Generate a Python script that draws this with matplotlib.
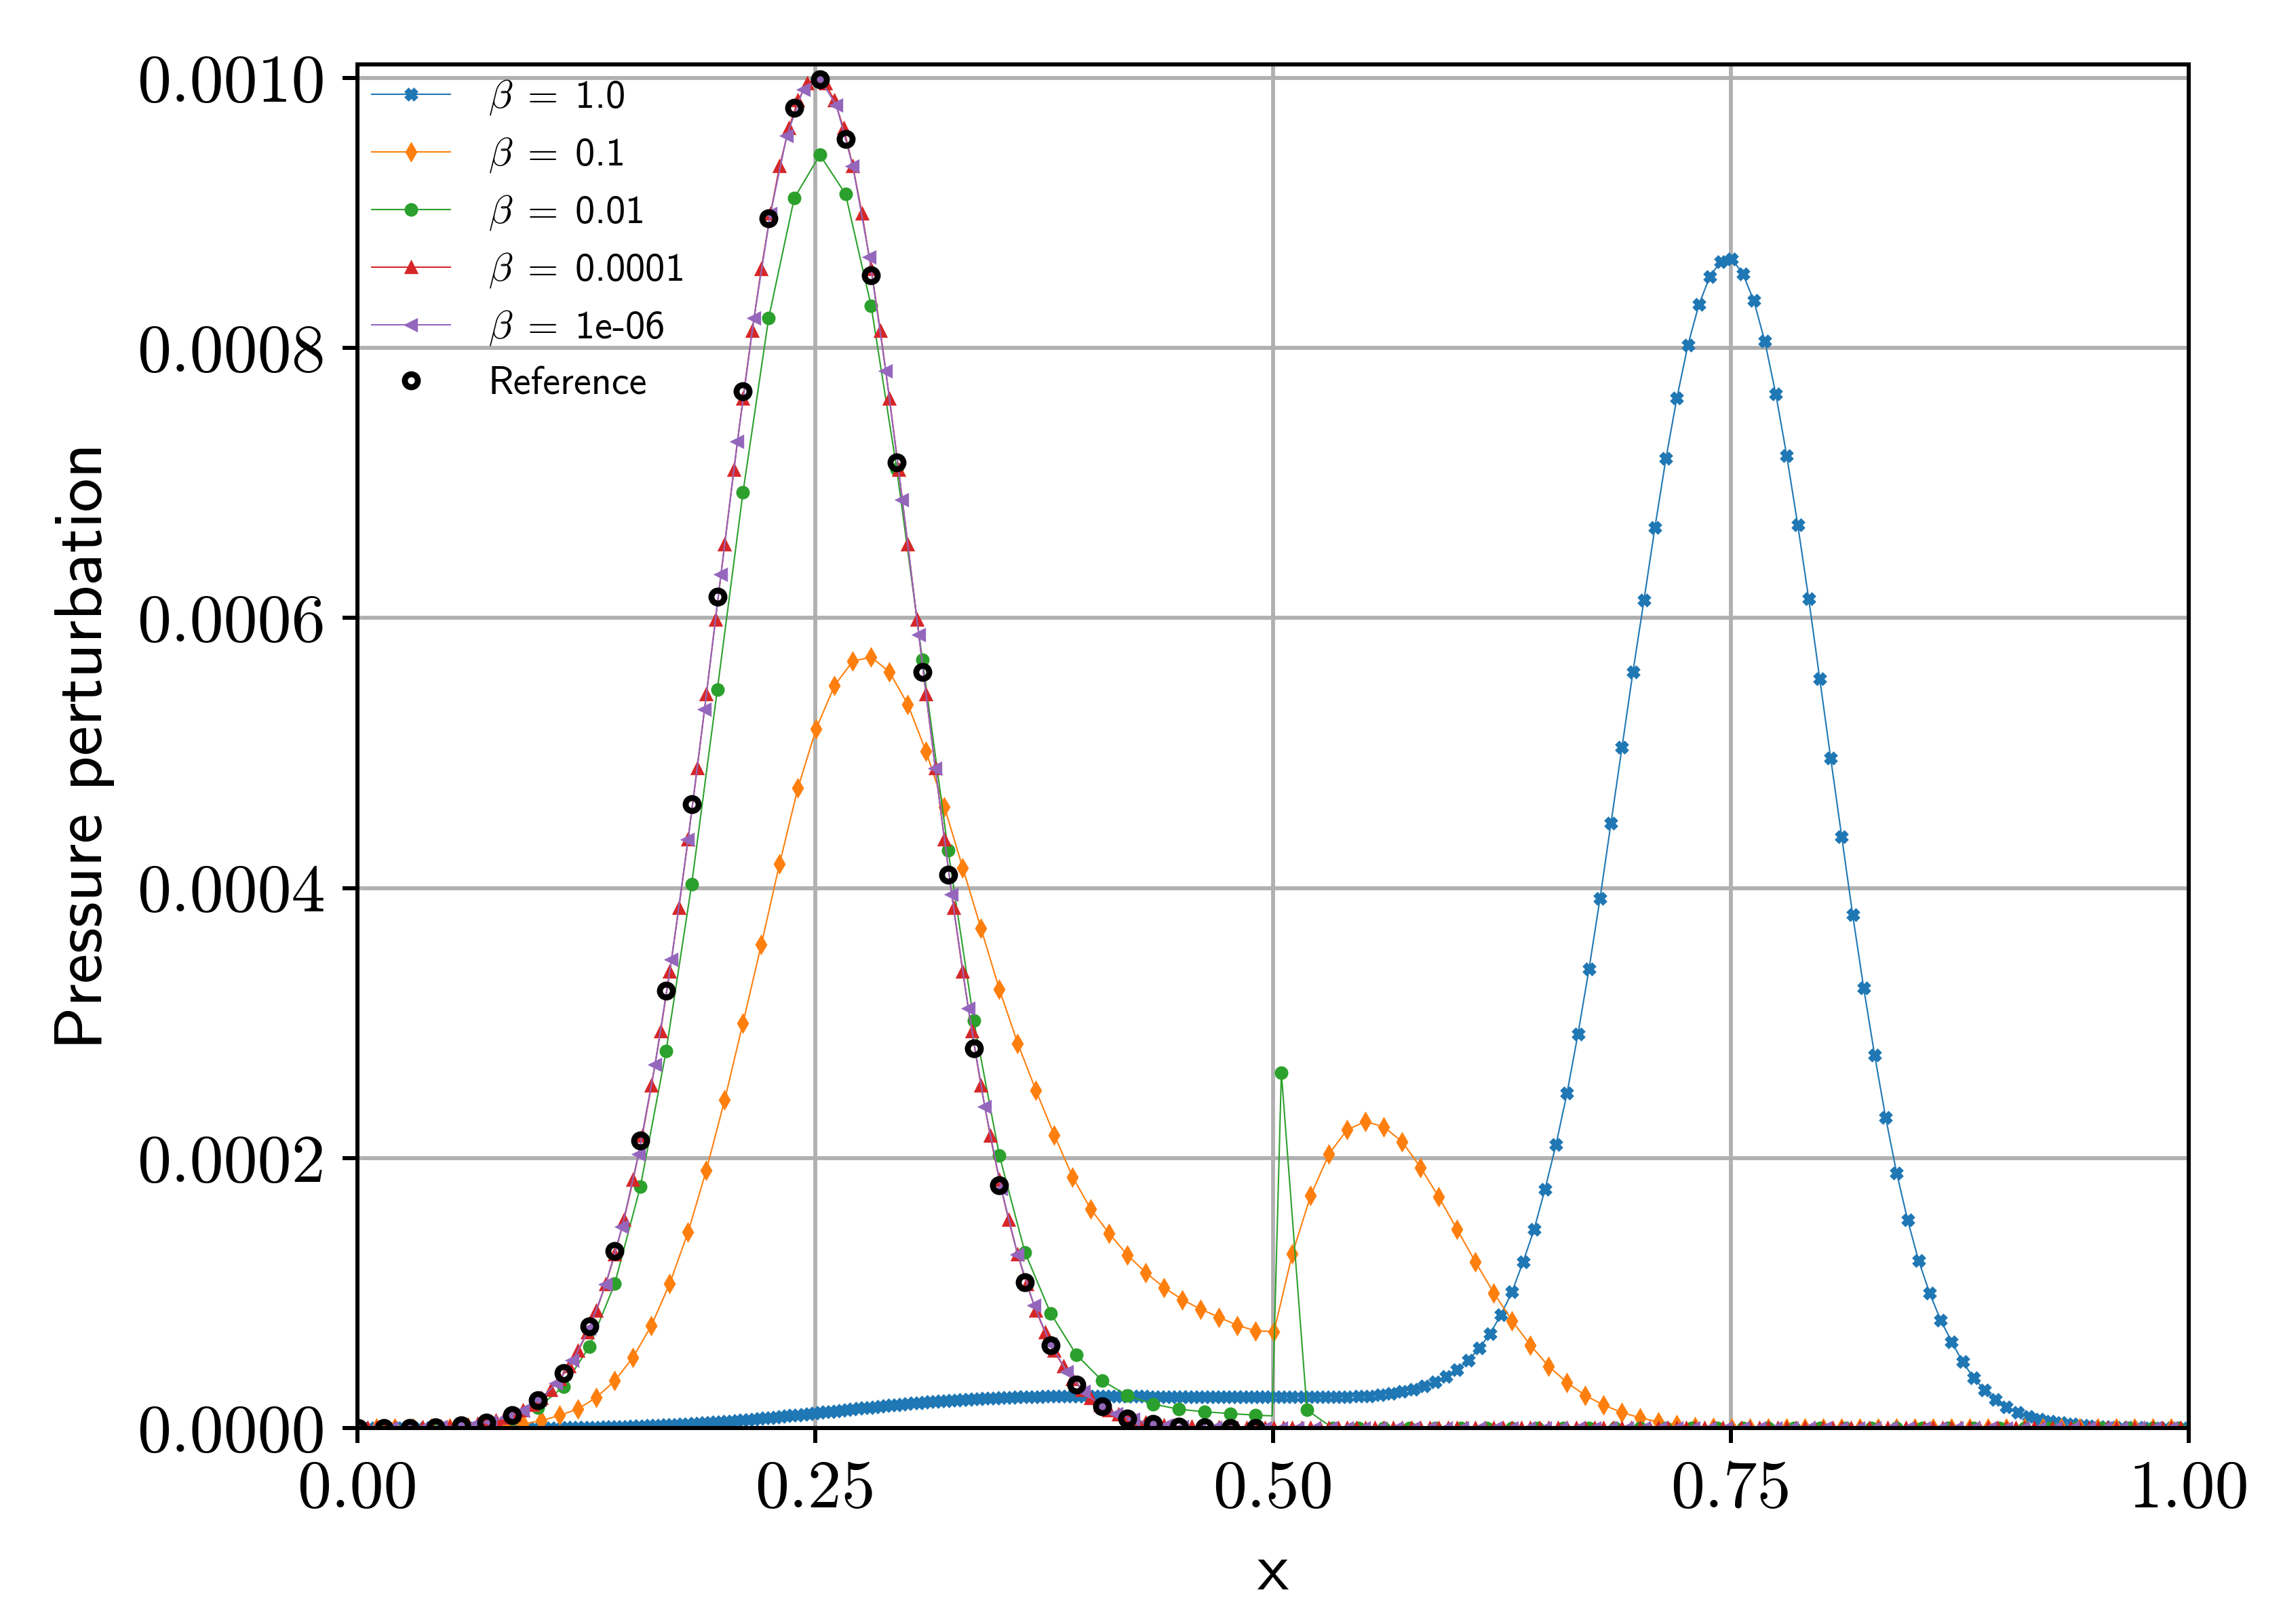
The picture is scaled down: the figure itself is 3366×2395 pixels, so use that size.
import numpy as np
import matplotlib
matplotlib.use("Agg")
import matplotlib.pyplot as plt

plt.rcParams['mathtext.fontset'] = 'cm'
plt.rcParams['axes.unicode_minus'] = False

# ---------------- data ----------------
labels = [r'$\beta\;=\;$1.0', r'$\beta\;=\;$0.1', r'$\beta\;=\;$0.01',
          r'$\beta\;=\;$0.0001', r'$\beta\;=\;$1e-06', 'Reference']

# beta = 1.0 : fine sampling (dx 0.003) up to x=0.5, coarse (dx 0.006) after; units 1e-5
blue_x_fine = 0.0005 + 0.003 * np.arange(167)
blue_y_fine = [
    0, 0, 0, 0, 0, 0, 0, 0, 0, 0,
    0, 0, 0, 0, 0, 0, 0, 0, 0, 0,
    0, 0, 0, 0, 0, 0, 0, 0, 0, 0,
    0.005, 0.007, 0.009, 0.01, 0.012, 0.015, 0.018, 0.021, 0.025, 0.03,
    0.036, 0.042, 0.05, 0.057, 0.065, 0.074, 0.083, 0.093, 0.104, 0.116,
    0.13, 0.144, 0.158, 0.173, 0.19, 0.207, 0.225, 0.244, 0.264, 0.285,
    0.307, 0.33, 0.354, 0.379, 0.405, 0.432, 0.46, 0.49, 0.52, 0.552,
    0.585, 0.62, 0.655, 0.69, 0.727, 0.765, 0.804, 0.844, 0.885, 0.926,
    0.968, 1.01, 1.05, 1.095, 1.14, 1.18, 1.225, 1.27, 1.31, 1.355,
    1.4, 1.44, 1.485, 1.525, 1.565, 1.605, 1.645, 1.685, 1.72, 1.76,
    1.795, 1.83, 1.865, 1.9, 1.93, 1.96, 1.99, 2.02, 2.05, 2.075,
    2.1, 2.125, 2.15, 2.17, 2.19, 2.21, 2.23, 2.245, 2.26, 2.275,
    2.29, 2.3, 2.31, 2.32, 2.33, 2.335, 2.34, 2.345, 2.35, 2.35,
    2.35, 2.35, 2.35, 2.35, 2.35, 2.35, 2.35, 2.35, 2.35, 2.35,
    2.35, 2.34, 2.34, 2.34, 2.33, 2.33, 2.33, 2.32, 2.32, 2.32,
    2.31, 2.31, 2.31, 2.31, 2.30, 2.30, 2.30, 2.30, 2.30, 2.30,
    2.30, 2.30, 2.30, 2.30, 2.30, 2.30, 2.30]
blue_x_coarse = 0.0005 + 0.006 * np.arange(84, 167)
blue_y_coarse = [
    2.30, 2.30, 2.30, 2.30, 2.31, 2.31, 2.32, 2.34, 2.38, 2.47,
    2.58, 2.72, 2.88, 3.1, 3.4, 3.8, 4.3, 5.0, 5.9, 7.0,
    8.4, 10.1, 12.3, 14.7, 17.7, 21.0, 24.8, 29.2, 34.0, 39.2,
    44.8, 50.4, 56.0, 61.3, 66.7, 71.8, 76.3, 80.2, 83.2, 85.3,
    86.4, 86.6, 85.5, 83.5, 80.5, 76.6, 72.0, 66.9, 61.4, 55.5,
    49.6, 43.8, 38.0, 32.6, 27.6, 23.0, 18.9, 15.4, 12.4, 10.0,
    8.0, 6.4, 4.9, 3.73, 2.8, 2.1, 1.56, 1.14, 0.84, 0.65,
    0.5, 0.38, 0.28, 0.2, 0.14, 0.1, 0.07, 0.05, 0.03, 0.02,
    0.01, 0.005, 0.0]

# beta = 0.1 : units 1e-4
orange_x = 0.0005 + 0.01 * np.arange(100)
orange_y = [
    0, 0, 0, 0, 0.001, 0.002, 0.004, 0.008, 0.015, 0.03,
    0.055, 0.093, 0.142, 0.227, 0.35, 0.524, 0.759, 1.07, 1.45, 1.91,
    2.43, 3.00, 3.58, 4.18, 4.74, 5.18, 5.50, 5.68, 5.71, 5.60,
    5.36, 5.01, 4.60, 4.15, 3.70, 3.25, 2.85, 2.50, 2.17, 1.86,
    1.62, 1.44, 1.28, 1.15, 1.04, 0.95, 0.88, 0.82, 0.76, 0.72,
    0.714, 1.29, 1.72, 2.03, 2.21, 2.27, 2.23, 2.12, 1.93, 1.71,
    1.47, 1.23, 1.00, 0.795, 0.613, 0.457, 0.337, 0.24, 0.17, 0.115,
    0.075, 0.045, 0.025, 0.012, 0.005, 0, 0, 0, 0, 0,
    0, 0, 0, 0, 0, 0, 0, 0, 0, 0,
    0, 0, 0, 0, 0, 0, 0, 0, 0, 0]

# beta = 0.01 : units 1e-4 ; one extra line vertex (no marker) just before x=0.5
green_x = 0.0005 + 0.014 * np.arange(72)
green_y = [
    0, 0, 0.001, 0.004, 0.012, 0.03, 0.07, 0.15, 0.307, 0.60,
    1.07, 1.79, 2.79, 4.03, 5.47, 6.93, 8.22, 9.11, 9.43, 9.14,
    8.31, 7.10, 5.69, 4.28, 3.02, 2.02, 1.30, 0.85, 0.544, 0.352,
    0.24, 0.177, 0.139, 0.12, 0.107, 0.095, 2.63, 0.133, 0, 0,
    0, 0, 0, 0, 0, 0, 0, 0, 0, 0,
    0, 0, 0, 0, 0, 0, 0, 0, 0, 0,
    0, 0, 0, 0, 0, 0, 0, 0, 0, 0,
    0, 0]
green_extra_x = [0.4995]
green_extra_y = [0.09]

# beta = 0.0001 : units 1e-4
red_x = 0.0005 + 0.005 * np.arange(200)
red_y = [
    0.000, 0.000, 0.001, 0.001, 0.001, 0.002, 0.003, 0.004, 0.006, 0.008,
    0.011, 0.016, 0.022, 0.030, 0.041, 0.056, 0.075, 0.099, 0.130, 0.170,
    0.221, 0.283, 0.361, 0.455, 0.570, 0.708, 0.871, 1.063, 1.286, 1.544,
    1.836, 2.166, 2.534, 2.939, 3.380, 3.854, 4.358, 4.887, 5.432, 5.989,
    6.546, 7.095, 7.625, 8.125, 8.585, 8.995, 9.345, 9.626, 9.832, 9.958,
    10.00, 9.958, 9.832, 9.626, 9.345, 8.995, 8.585, 8.125, 7.625, 7.095,
    6.546, 5.989, 5.432, 4.887, 4.358, 3.854, 3.380, 2.939, 2.534, 2.166,
    1.836, 1.544, 1.286, 1.063, 0.871, 0.708, 0.570, 0.455, 0.361, 0.283,
    0.221, 0.170, 0.130, 0.099, 0.075, 0.056, 0.041, 0.030, 0.022, 0.016,
    0.011, 0.008, 0.006, 0.004, 0.003, 0.002, 0.001, 0.001, 0.001, 0.000,
    0, 0, 0, 0, 0, 0, 0, 0, 0, 0, 0, 0, 0, 0, 0, 0, 0, 0, 0, 0,
    0, 0, 0, 0, 0, 0, 0, 0, 0, 0, 0, 0, 0, 0, 0, 0, 0, 0, 0, 0,
    0, 0, 0, 0, 0, 0, 0, 0, 0, 0, 0, 0, 0, 0, 0, 0, 0, 0, 0, 0,
    0, 0, 0, 0, 0, 0, 0, 0, 0, 0, 0, 0, 0, 0, 0, 0, 0, 0, 0, 0,
    0, 0, 0, 0, 0, 0, 0, 0, 0, 0, 0, 0, 0, 0, 0, 0, 0, 0, 0, 0]

# beta = 1e-06 : units 1e-4
purple_x = 0.0005 + 0.009 * np.arange(112)
purple_y = [
    0.000, 0.001, 0.001, 0.002, 0.004, 0.008, 0.015, 0.027, 0.047, 0.079,
    0.130, 0.210, 0.329, 0.500, 0.738, 1.063, 1.489, 2.030, 2.692, 3.472,
    4.358, 5.322, 6.324, 7.310, 8.221, 8.995, 9.575, 9.917, 9.993, 9.797,
    9.345, 8.672, 7.829, 6.877, 5.877, 4.887, 3.953, 3.111, 2.382, 1.775,
    1.286, 0.907, 0.622, 0.415, 0.270, 0.170, 0.105, 0.063, 0.036, 0.021,
    0.011, 0.006, 0.003, 0.002, 0.001, 0.000,
    0, 0, 0, 0, 0, 0, 0, 0, 0, 0, 0, 0, 0, 0, 0, 0, 0, 0, 0, 0,
    0, 0, 0, 0, 0, 0, 0, 0, 0, 0, 0, 0, 0, 0, 0, 0, 0, 0, 0, 0,
    0, 0, 0, 0, 0, 0, 0, 0, 0, 0, 0, 0, 0, 0, 0, 0]

# Reference : units 1e-4
ref_x = 0.0005 + 0.014 * np.arange(36)
ref_y = [
    0.000, 0.001, 0.002, 0.007, 0.018, 0.042, 0.096, 0.205, 0.405, 0.754,
    1.31, 2.13, 3.24, 4.62, 6.16, 7.68, 8.96, 9.78, 9.99, 9.55,
    8.54, 7.15, 5.60, 4.10, 2.81, 1.80, 1.08, 0.61, 0.32, 0.16,
    0.07, 0.03, 0.01, 0.005, 0.0, 0.0]

x_ticks = [0.0, 0.25, 0.5, 0.75, 1.0]
y_ticks = [0.0, 0.0002, 0.0004, 0.0006, 0.0008, 0.0010]

# ---------------- figure ----------------
DPI = 600
fig = plt.figure(figsize=(3366 / DPI, 2395 / DPI), dpi=DPI)
ax = fig.add_axes([0.1566, 0.1207, 0.8021, 0.8396])

lw = 0.25
ms = 2.0
mew = 0.4

bx = np.concatenate([blue_x_fine, blue_x_coarse])
by = np.concatenate([blue_y_fine, blue_y_coarse]) * 1e-5
ax.plot(bx, by, color='C0', marker='X', ms=ms, mew=mew, lw=lw, label=labels[0])

ax.plot(orange_x, np.array(orange_y) * 1e-4, color='C1', marker='d', ms=ms,
        mew=mew, lw=lw, label=labels[1])

gx = np.concatenate([green_x, green_extra_x])
gy = np.concatenate([green_y, green_extra_y]) * 1e-4
order = np.argsort(gx)
gx, gy = gx[order], gy[order]
mark_idx = [i for i, o in enumerate(order) if o < len(green_x)]
ax.plot(gx, gy, color='C2', marker='o', ms=ms, mew=mew, lw=lw,
        markevery=mark_idx, label=labels[2])

ax.plot(red_x, np.array(red_y) * 1e-4, color='C3', marker='^', ms=ms, mew=mew,
        lw=lw, label=labels[3])
ax.plot(purple_x, np.array(purple_y) * 1e-4, color='C4', marker='<', ms=ms,
        mew=mew, lw=lw, label=labels[4])
ax.plot(ref_x, np.array(ref_y) * 1e-4, color='k', marker='o', ms=2.3, mew=1.05,
        fillstyle='none', ls='none', label=labels[5])

ax.set_xlim(0, 1)
ax.set_ylim(0, 0.00101)
ax.set_xticks(x_ticks)
ax.set_yticks(y_ticks)
ax.set_xticklabels(['%.2f' % v for v in x_ticks])
ax.set_yticklabels(['%.4f' % v for v in y_ticks])
ax.tick_params(labelsize=12, labelfontfamily='cmr10', length=2.64, width=0.72, pad=3)
for s in ax.spines.values():
    s.set_linewidth(0.72)
ax.grid(True, color='#b0b0b0', linewidth=0.7)

ax.set_xlabel('x', fontfamily='cmss10', fontsize=12)
ax.set_ylabel('Pressure perturbation', fontfamily='cmss10', fontsize=12)

ax.legend(loc='upper left', frameon=False, prop={'family': 'cmss10', 'size': 7},
          borderaxespad=0.0, borderpad=0.35, labelspacing=0.48,
          handletextpad=0.95)

fig.savefig('out.png', dpi=DPI)
